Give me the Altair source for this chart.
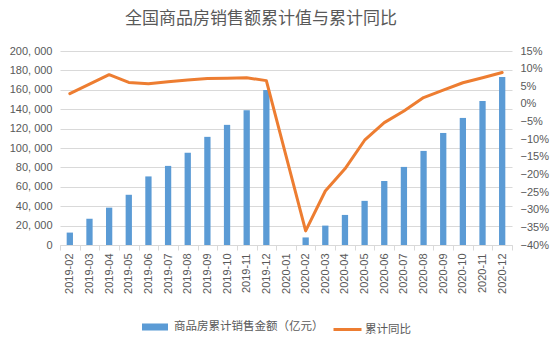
import altair as alt
import pandas as pd

months = ["2019-02", "2019-03", "2019-04", "2019-05", "2019-06", "2019-07",
          "2019-08", "2019-09", "2019-10", "2019-11", "2019-12", "2020-01",
          "2020-02", "2020-03", "2020-04", "2020-05", "2020-06", "2020-07",
          "2020-08", "2020-09", "2020-10", "2020-11", "2020-12"]
sales = [12803, 27039, 38498, 51773, 70698, 81557, 95112, 111491, 123862,
         139006, 159725, None, 7800, 20000, 31000, 45500, 66000, 80500,
         97000, 115500, 131000, 148500, 173300]
yoy = [2.9, 5.6, 8.3, 6.1, 5.7, 6.3, 6.8, 7.2, 7.3, 7.4, 6.6, None, -36.0,
       -24.7, -18.4, -10.3, -5.3, -2.0, 1.8, 3.9, 6.0, 7.4, 8.9]

bar_name = "商品房累计销售金额（亿元）"
line_name = "累计同比"

df = pd.DataFrame({"month": months, "sales": sales, "yoy": yoy})
df["s1"] = bar_name
df["s2"] = line_name

GRAY = "#595959"
CJK = "Noto Sans CJK SC"
NUM = "Liberation Sans"

x_enc = alt.X(
    "month:O",
    sort=months,
    scale=alt.Scale(domain=months, paddingInner=0, paddingOuter=0),
    axis=alt.Axis(
        title=None, labelAngle=-90, tickBand="extent", grid=False,
        domainColor="#d9d9d9", tickColor="#d9d9d9", tickSize=5,
        labelPadding=3, labelFontSize=11, labelFont=NUM, labelColor=GRAY,
    ),
)

bars = alt.Chart(df).transform_filter("isValid(datum.sales)").mark_bar(
    width=alt.RelativeBandSize(0.32)
).encode(
    x=x_enc,
    y=alt.Y(
        "sales:Q",
        scale=alt.Scale(domain=[0, 200000], nice=False),
        axis=alt.Axis(
            title=None, values=list(range(0, 200001, 20000)),
            labelExpr="replace(format(datum.value, ','), ',', ', ')",
            domain=False, ticks=False, labelPadding=8, grid=True,
            gridColor="#d9d9d9", labelFontSize=11, labelFont=NUM,
            labelColor=GRAY,
        ),
    ),
    color=alt.Color(
        "s1:N",
        scale=alt.Scale(domain=[bar_name], range=["#5B9BD5"]),
        legend=alt.Legend(
            title=None, orient="none", legendX=82, legendY=263,
            symbolType="M-1,-0.27L1,-0.27L1,0.27L-1,0.27Z",
            symbolSize=676, symbolStrokeWidth=0,
            labelFont=CJK, labelFontSize=11.5, labelColor=GRAY, labelOffset=6,
        ),
    ),
)

line = alt.Chart(df).transform_filter("isValid(datum.yoy)").mark_line(
    strokeWidth=3, strokeJoin="round", strokeCap="round"
).encode(
    x=x_enc,
    y=alt.Y(
        "yoy:Q",
        scale=alt.Scale(domain=[-40, 15], nice=False),
        axis=alt.Axis(
            title=None, orient="right", values=list(range(-40, 16, 5)),
            labelExpr="format(datum.value, 'd') + '%'",
            domain=False, ticks=False, grid=False, labelPadding=8,
            labelFontSize=11, labelFont=NUM, labelColor=GRAY,
        ),
    ),
    stroke=alt.Stroke(
        "s2:N",
        scale=alt.Scale(domain=[line_name], range=["#ED7D31"]),
        legend=alt.Legend(
            title=None, orient="none", legendX=272, legendY=263,
            symbolType="stroke", symbolSize=784, symbolStrokeWidth=3,
            labelFont=CJK, labelFontSize=11.5, labelColor=GRAY, labelOffset=2,
        ),
    ),
)

chart = alt.layer(bars, line).resolve_scale(
    y="independent", color="independent", stroke="independent"
).properties(
    width=452,
    height=194,
    padding={"left": 60, "top": 51, "right": 42, "bottom": 97},
    autosize=alt.AutoSizeParams(type="none"),
    title=alt.TitleParams(
        "全国商品房销售额累计值与累计同比", font=CJK, fontSize=17,
        fontWeight="normal", color=GRAY, anchor="middle", dx=-25, offset=17,
    ),
).configure_view(stroke=None)

chart.save("out.html", embed_options={"renderer": "svg", "actions": False})
